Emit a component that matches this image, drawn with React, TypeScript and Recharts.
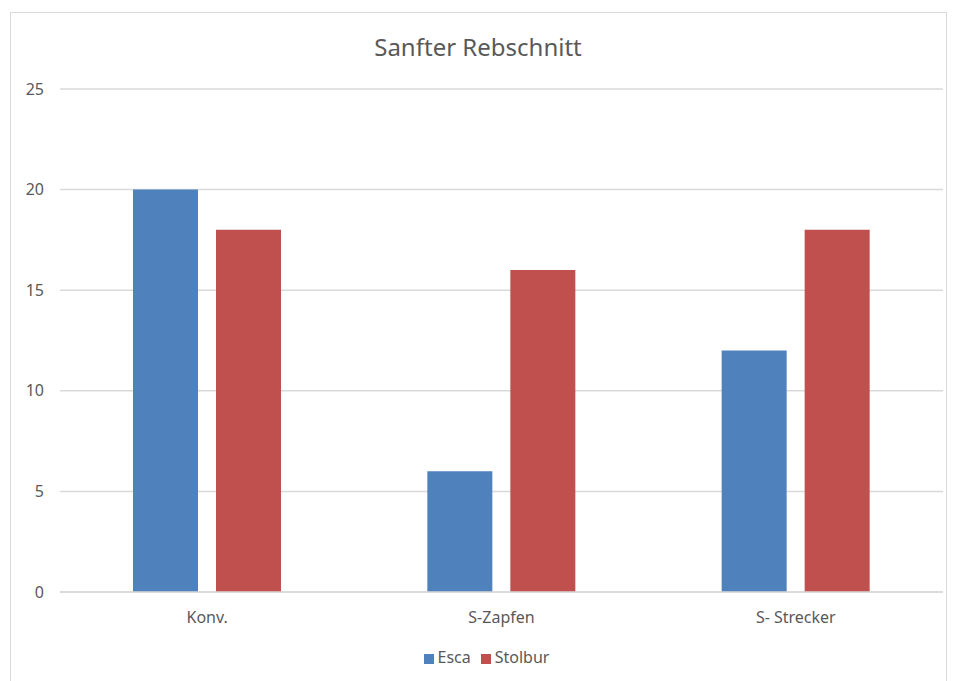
import React from 'react'
import { BarChart, Bar, XAxis, YAxis, CartesianGrid, Legend } from 'recharts'

const categories = ['Konv.', 'S-Zapfen', 'S- Strecker']
const esca = [20, 6, 12]
const stolbur = [18, 16, 18]
const yTicks = [0, 5, 10, 15, 20, 25]

const data = categories.map((name, i) => ({ name, Esca: esca[i], Stolbur: stolbur[i] }))

const font = '"Noto Sans", "Open Sans", sans-serif'
const textColor = '#595959'

export default function App() {
  return (
    <div style={{ position: 'absolute', left: 0, top: 0, width: 956, height: 681, background: '#fff', fontFamily: font, overflow: 'hidden' }}>
      <div style={{ position: 'absolute', left: 10, top: 12, width: 937, height: 700, border: '1px solid #d9d9d9', boxSizing: 'border-box' }} />
      <div style={{ position: 'absolute', left: 0, top: 30, width: 956, textAlign: 'center', fontSize: 24, color: textColor }}>
        Sanfter Rebschnitt
      </div>
      <div style={{ position: 'absolute', left: 0, top: 0 }}>
        <BarChart
          width={956}
          height={681}
          data={data}
          margin={{ top: 89, right: 13, left: 0, bottom: 37 }}
          barSize={65}
          barGap={18}
        >
          <CartesianGrid vertical={false} stroke="#d9d9d9" strokeWidth={1.5} />
          <XAxis
            dataKey="name"
            height={30}
            tickLine={false}
            axisLine={{ stroke: '#d9d9d9', strokeWidth: 1.5 }}
            tickMargin={14}
            tick={{ fill: textColor, fontSize: 16, fontFamily: font }}
          />
          <YAxis
            width={60}
            domain={[0, 25]}
            ticks={yTicks}
            axisLine={false}
            tickLine={false}
            tickSize={0}
            tickMargin={16}
            tick={{ fill: textColor, fontSize: 16, fontFamily: font }}
          />
          <Legend
            verticalAlign="bottom"
            iconType="square"
            iconSize={10}
            wrapperStyle={{ fontSize: 16, fontFamily: font, bottom: 13, left: 20 }}
            formatter={(value: string) => <span style={{ color: textColor }}>{value}</span>}
          />
          <Bar dataKey="Esca" fill="#4F81BD" isAnimationActive={false} />
          <Bar dataKey="Stolbur" fill="#C0504D" isAnimationActive={false} />
        </BarChart>
      </div>
    </div>
  )
}
